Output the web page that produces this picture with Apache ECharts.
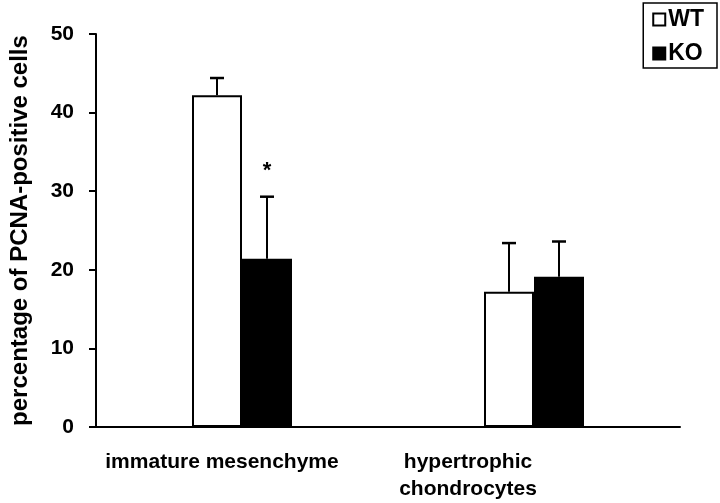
<!DOCTYPE html>
<html>
<head>
<meta charset="utf-8">
<script src="https://cdn.jsdelivr.net/npm/echarts@6/dist/echarts.min.js"></script>
<style>html,body{margin:0;padding:0;background:#fff}#c{width:720px;height:503px}</style>
</head>
<body>
<div id="c"></div>
<script>
const categories = ['immature mesenchyme', 'hypertrophic\nchondrocytes'];
const wtValues = [42.2, 17.2];
const koValues = [21.4, 19.1];
const wtErrTop = [44.4, 23.4];
const koErrTop = [29.3, 23.6];
const koMarks = ['*', ''];
const yTicks = [0, 10, 20, 30, 40, 50];

const FONT = 'Liberation Sans, Arial, sans-serif';
const BAR_W = 50;

function errSeries(name, tops, values, offset, marks) {
  return {
    type: 'custom',
    name: name + ' err',
    silent: true,
    z: 5,
    data: tops.map((t, i) => [i, values[i], t]),
    renderItem: function (params, api) {
      const i = api.value(0);
      const base = api.coord([i, api.value(1)]);
      const top = api.coord([i, api.value(2)]);
      const x = base[0] + offset;
      const children = [
        { type: 'line', shape: { x1: x, y1: base[1], x2: x, y2: top[1] }, style: { stroke: '#000', lineWidth: 2 } },
        { type: 'line', shape: { x1: x - 7, y1: top[1], x2: x + 7, y2: top[1] }, style: { stroke: '#000', lineWidth: 2.5 } }
      ];
      const m = marks ? marks[params.dataIndex] : '';
      if (m) {
        children.push({ type: 'text', style: { text: m, x: x, y: top[1] - 26, textAlign: 'center', textVerticalAlign: 'middle', font: 'bold 22px ' + FONT, fill: '#000' } });
      }
      return { type: 'group', children: children };
    }
  };
}

const chart = echarts.init(document.getElementById('c'));
chart.setOption({
  animation: false,
  backgroundColor: '#fff',
  grid: { left: 95, right: 40, top: 34, bottom: 76 },
  legend: {
    orient: 'vertical',
    right: 3, top: 3,
    itemWidth: 12, itemHeight: 12, itemGap: 11,
    padding: [5, 13, 3, 9],
    borderColor: '#000', borderWidth: 1.5,
    icon: 'rect',
    textStyle: { fontFamily: FONT, fontWeight: 'bold', fontSize: 23, color: '#000', padding: [0, 0, 0, -2] },
    data: [
      { name: 'WT', itemStyle: { color: '#fff', borderColor: '#000', borderWidth: 2 } },
      { name: 'KO', itemStyle: { color: '#000', borderColor: '#000', borderWidth: 2 } }
    ]
  },
  xAxis: {
    type: 'category',
    data: categories,
    axisLine: { lineStyle: { color: '#000', width: 2 } },
    axisTick: { show: false },
    axisLabel: {
      interval: 0,
      margin: 22,
      color: '#000',
      fontFamily: FONT, fontWeight: 'bold', fontSize: 21, lineHeight: 27,
      formatter: function (v, i) {
        return v.split('\n').map(s => '{' + (i === 0 ? 'a' : 'b') + '|' + s + '}').join('\n');
      },
      rich: {
        a: { fontFamily: FONT, fontWeight: 'bold', fontSize: 21, lineHeight: 27, color: '#000', padding: [0, 40, 0, 0] },
        b: { fontFamily: FONT, fontWeight: 'bold', fontSize: 21, lineHeight: 27, color: '#000', padding: [0, 132, 0, 0] }
      }
    }
  },
  yAxis: {
    type: 'value',
    min: yTicks[0], max: yTicks[yTicks.length - 1], interval: 10,
    name: 'percentage of PCNA-positive cells',
    nameLocation: 'middle',
    nameGap: 64,
    nameTextStyle: { fontFamily: FONT, fontWeight: 'bold', fontSize: 24, color: '#000' },
    axisLine: { show: true, lineStyle: { color: '#000', width: 2 } },
    axisTick: { show: true, length: 7, lineStyle: { color: '#000', width: 2 } },
    splitLine: { show: false },
    axisLabel: { color: '#000', fontFamily: FONT, fontWeight: 'bold', fontSize: 21, margin: 22 }
  },
  series: [
    { name: 'WT', type: 'bar', data: wtValues, barWidth: BAR_W, barGap: '0%',
      itemStyle: { color: '#fff', borderColor: '#000', borderWidth: 2 } },
    { name: 'KO', type: 'bar', data: koValues, barWidth: BAR_W, barGap: '0%',
      itemStyle: { color: '#000', borderColor: '#000', borderWidth: 2 } },
    errSeries('WT', wtErrTop, wtValues, -BAR_W / 2, null),
    errSeries('KO', koErrTop, koValues, BAR_W / 2, koMarks)
  ]
});
</script>
</body>
</html>
